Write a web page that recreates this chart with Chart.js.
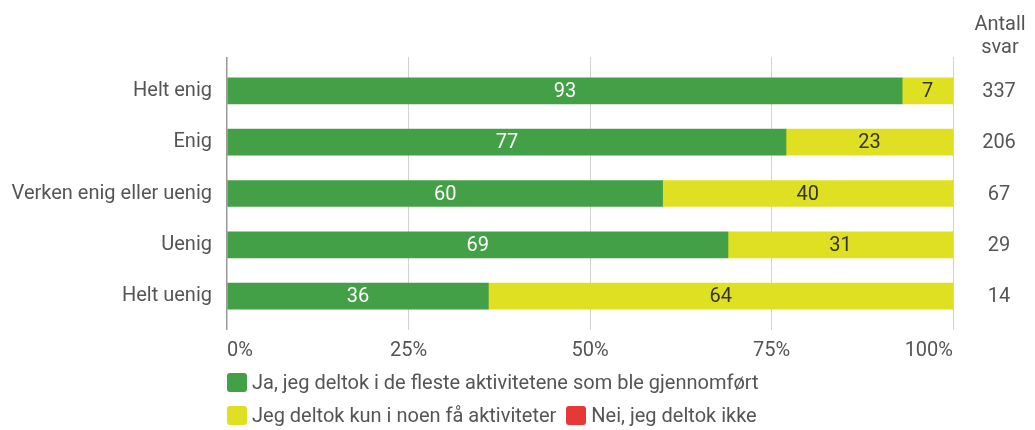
<!DOCTYPE html>
<html>
<head>
<meta charset="utf-8">
<script src="https://cdn.jsdelivr.net/npm/chart.js@4/dist/chart.umd.min.js"></script>
<style>
  html, body { margin: 0; padding: 0; background: #fff; }
  #wrap { position: relative; width: 1035px; height: 430px; }
  #chart { position: absolute; left: 0; top: 0; }
  #legend {
    position: absolute; left: 227px; top: 372px; width: 580px;
    display: flex; flex-wrap: wrap; column-gap: 10px; row-gap: 13px;
    font-family: Roboto, sans-serif; font-size: 20px; color: #555;
  }
  .item { display: flex; align-items: center; height: 20px; line-height: 20px; white-space: nowrap; }
  .box { width: 20px; height: 19px; border-radius: 3px; margin-right: 5px; }
</style>
</head>
<body>
<div id="wrap">
  <canvas id="chart" width="1035" height="430"></canvas>
  <div id="legend"></div>
</div>
<script>
// Answer categories (top to bottom)
const categories = ['Helt enig', 'Enig', 'Verken enig eller uenig', 'Uenig', 'Helt uenig'];

// Share of respondents (%) per category
const jaFleste = [93, 77, 60, 69, 36];
const kunNoen  = [7, 23, 40, 31, 64];
const neiIkke  = [0, 0, 0, 0, 0];

// Number of responses per category
const antallSvar = [337, 206, 67, 29, 14];

const seriesNames = [
  'Ja, jeg deltok i de fleste aktivitetene som ble gjennomført',
  'Jeg deltok kun i noen få aktiviteter',
  'Nei, jeg deltok ikke'
];
const seriesColors = ['#43a047', '#e0e022', '#e53935'];
const labelColors = ['#ffffff', '#333333', '#ffffff'];

const xTicks = [0, 25, 50, 75, 100];
const countHeader = ['Antall', 'svar'];

const FONT = 'Roboto, sans-serif';
const TEXT = '#555555';

const toPoints = arr => arr.map((v, i) => ({ x: v, y: i }));

// Value labels centred inside each bar segment
const barLabels = {
  id: 'barLabels',
  afterDatasetsDraw(chart) {
    const { ctx } = chart;
    ctx.save();
    ctx.font = '20px ' + FONT;
    ctx.textAlign = 'center';
    ctx.textBaseline = 'middle';
    chart.data.datasets.forEach((ds, di) => {
      const meta = chart.getDatasetMeta(di);
      if (meta.hidden) return;
      meta.data.forEach((bar, i) => {
        const v = ds.data[i].x;
        if (!v) return;
        const { x, y, base } = bar.getProps(['x', 'y', 'base'], true);
        ctx.fillStyle = labelColors[di];
        ctx.fillText(String(v), (x + base) / 2, y + 1);
      });
    });
    ctx.restore();
  }
};

// Response counts to the right of the bars
const countColumn = {
  id: 'countColumn',
  afterDraw(chart) {
    const { ctx, chartArea } = chart;
    const yScale = chart.scales.y;
    const cx = chartArea.right + 46;
    ctx.save();
    ctx.font = '20px ' + FONT;
    ctx.fillStyle = TEXT;
    ctx.textAlign = 'center';
    ctx.textBaseline = 'alphabetic';
    ctx.fillText(countHeader[0], cx + 1, chartArea.top - 27);
    ctx.fillText(countHeader[1], cx + 1, chartArea.top - 4);
    ctx.textBaseline = 'middle';
    antallSvar.forEach((n, i) => {
      ctx.fillText(String(n), cx, yScale.getPixelForValue(i) + 1);
    });
    ctx.restore();
  }
};

const chart = new Chart(document.getElementById('chart'), {
  type: 'bar',
  data: {
    datasets: [
      { label: seriesNames[0], data: toPoints(jaFleste), backgroundColor: seriesColors[0] },
      { label: seriesNames[1], data: toPoints(kunNoen),  backgroundColor: seriesColors[1] },
      { label: seriesNames[2], data: toPoints(neiIkke),  backgroundColor: seriesColors[2] }
    ]
  },
  options: {
    indexAxis: 'y',
    responsive: false,
    animation: false,
    barThickness: 26,
    layout: { padding: { top: 57, right: 82, bottom: 0, left: 0 } },
    plugins: {
      legend: { display: false },
      tooltip: { enabled: false }
    },
    scales: {
      x: {
        type: 'linear',
        stacked: true,
        min: 0, max: 100,
        afterFit(scale) { scale.height = 100; },
        afterBuildTicks(scale) { scale.ticks = xTicks.map(v => ({ value: v })); },
        ticks: {
          align: 'inner',
          padding: 9,
          color: TEXT,
          font: { family: FONT, size: 20 },
          callback: v => v + '%'
        },
        grid: {
          drawTicks: false,
          color: ctx => (ctx.tick && ctx.tick.value === 0) ? '#9a9a9a' : '#d2d2d2',
          lineWidth: ctx => (ctx.tick && ctx.tick.value === 0) ? 1.5 : 1
        },
        border: { display: false }
      },
      y: {
        type: 'linear',
        stacked: true,
        offset: false,
        reverse: true,
        min: -0.66, max: categories.length - 1 + 0.66,
        afterFit(scale) { scale.width = 227; },
        afterBuildTicks(scale) { scale.ticks = categories.map((c, i) => ({ value: i })); },
        ticks: {
          padding: 15,
          color: TEXT,
          font: { family: FONT, size: 20 },
          callback: v => categories[Math.round(v)]
        },
        grid: { display: false, drawTicks: false },
        border: { display: false }
      }
    }
  },
  plugins: [barLabels, countColumn]
});

// Legend built from the chart's datasets
const legendEl = document.getElementById('legend');
chart.data.datasets.forEach(ds => {
  const item = document.createElement('div');
  item.className = 'item';
  const box = document.createElement('span');
  box.className = 'box';
  box.style.background = ds.backgroundColor;
  const txt = document.createElement('span');
  txt.textContent = ds.label;
  item.appendChild(box);
  item.appendChild(txt);
  legendEl.appendChild(item);
});
</script>
</body>
</html>
